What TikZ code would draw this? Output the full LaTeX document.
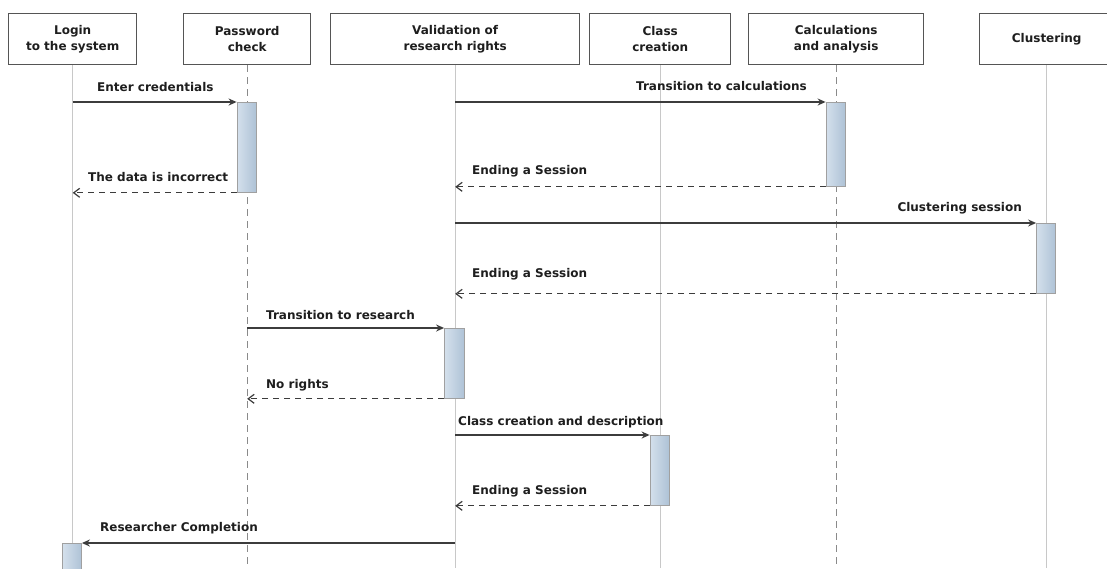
\documentclass[tikz,border=0pt]{standalone}
\usepackage{fontspec}
\setmainfont{DejaVu Sans}
\usetikzlibrary{arrows.meta}
\definecolor{boxgray}{HTML}{555555}
\definecolor{lifegray}{HTML}{C8C8C8}
\definecolor{dashgray}{HTML}{8A8A8A}
\definecolor{msgc}{HTML}{3C3C3C}
\definecolor{txt}{HTML}{1E1E1E}
\definecolor{barL}{HTML}{D4E0EC}
\definecolor{barR}{HTML}{AEC2D6}
\definecolor{bargray}{HTML}{A0A0A0}
\newcommand{\hfont}{\fontsize{12}{16}\selectfont\bfseries}
\begin{document}
\begin{tikzpicture}[x=1pt,y=-1pt,
 hdr/.style={draw=boxgray, line width=1.4pt, minimum height=51pt, inner sep=0pt, align=center, font=\hfont, text=txt, anchor=north west},
 life/.style={draw=lifegray, line width=1pt},
 lifedash/.style={draw=dashgray, line width=1pt, dash pattern=on 7pt off 5pt},
 actbar/.style={draw=bargray, line width=0.8pt, left color=barL, right color=barR, minimum width=19pt, inner sep=0pt, anchor=north},
 msg/.style={draw=msgc, line width=1.3pt, -{Stealth[length=8pt,width=7pt]}},
 ret/.style={draw=msgc, line width=1.2pt, dash pattern=on 6pt off 5pt, -{Straight Barb[length=6pt,width=9pt]}},
 lbl/.style={font=\hfont, text=txt, inner sep=0pt, anchor=base west},
 lblr/.style={lbl, anchor=base east}]
\useasboundingbox[fill=white] (0,0) rectangle (1107,568);
% headers
\node[hdr, minimum width=128pt] (login) at (8,13) {Login\\to the system};
\node[hdr, minimum width=127pt] (pass) at (183,13) {Password\\check};
\node[hdr, minimum width=249pt] (valid) at (330,13) {Validation of\\research rights};
\node[hdr, minimum width=141pt] (class) at (589,13) {Class\\creation};
\node[hdr, minimum width=175pt] (calc) at (748,13) {Calculations\\and analysis};
\node[hdr, minimum width=134pt] (clust) at (979,13) {Clustering};
\coordinate (bottom) at (0,568);
% lifelines
\draw[life] (login.south) -- (login.south |- bottom);
\draw[lifedash] (pass.south) -- (pass.south |- bottom);
\draw[life] (valid.south) -- (valid.south |- bottom);
\draw[life] (class.south) -- (class.south |- bottom);
\draw[lifedash] (calc.south) -- (calc.south |- bottom);
\draw[life] (clust.south) -- (clust.south |- bottom);
% activation bars
\node[actbar, minimum height=90pt] (b1) at (246.5,102) {};
\node[actbar, minimum height=84pt] (b2) at (835.5,102) {};
\node[actbar, minimum height=70pt] (b3) at (1046,223) {};
\node[actbar, minimum height=70pt, minimum width=20pt] (b4) at (454.5,328) {};
\node[actbar, minimum height=70pt] (b5) at (659.5,435) {};
\node[actbar, minimum height=30pt] (b6) at (72,543) {};
% messages
\draw[msg] (login.south |- b1.north west) -- (b1.north west);
\draw[ret] (b1.south west) -- (login.south |- b1.south west);
\draw[msg] (valid.south |- b2.north west) -- (b2.north west);
\draw[ret] (b2.south west) -- (valid.south |- b2.south west);
\draw[msg] (valid.south |- b3.north west) -- (b3.north west);
\draw[ret] (b3.south west) -- (valid.south |- b3.south west);
\draw[msg] (pass.south |- b4.north west) -- (b4.north west);
\draw[ret] (b4.south west) -- (pass.south |- b4.south west);
\draw[msg] (valid.south |- b5.north west) -- (b5.north west);
\draw[ret] (b5.south west) -- (valid.south |- b5.south west);
\draw[msg] (valid.south |- b6.north east) -- (b6.north east);
% labels
\node[lbl] (l1) at (97,91.5) {Enter credentials};
\node[lbl] (l2) at (88,181.5) {The data is incorrect};
\node[lblr] (l3) at (807,90.5) {Transition to calculations};
\node[lbl] (l4) at (472,174.5) {Ending a Session};
\node[lblr] (l5) at (1022,211.5) {Clustering session};
\node[lbl] (l6) at (472,277.5) {Ending a Session};
\node[lbl] (l7) at (266,319.5) {Transition to research};
\node[lbl] (l8) at (266,388.5) {No rights};
\node[lbl] (l9) at (458,425.5) {Class creation and description};
\node[lbl] (l10) at (472,494.5) {Ending a Session};
\node[lbl] (l11) at (100,531.5) {Researcher Completion};
\end{tikzpicture}
\end{document}
